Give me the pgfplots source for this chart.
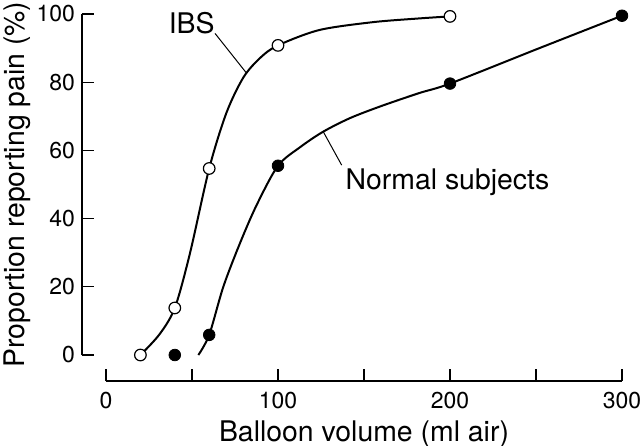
\documentclass[border=0pt]{standalone}
\usepackage{pgfplots}
\pgfplotsset{compat=1.18}
\usepackage{fontspec}
\setmainfont{TeX Gyre Heros}
\begin{document}
\begin{tikzpicture}
\begin{axis}[
  scale only axis, width=258pt, height=170.5pt,
  xmin=0, xmax=300, ymin=0, ymax=100,
  axis lines=left, axis line style={-, line width=0.6pt},
  axis x line shift=13pt, axis y line shift=12pt,
  tick align=inside, major tick length=6pt,
  tick style={line width=0.6pt, black},
  xtick={0,50,...,300}, xticklabels={0,,100,,200,,300},
  ytick={0,20,...,100},
  /pgf/number format/assume math mode=true,
  ticklabel style={font=\fontsize{11.5}{13}\selectfont},
  xticklabel style={yshift=-2pt},
  label style={font=\fontsize{14.2}{17}\selectfont},
  xlabel={Balloon volume (ml air)},
  ylabel={Proportion reporting pain (\%)},
  xlabel style={at={(axis description cs:0.5,0)}, anchor=base, yshift=-43.3pt},
  ylabel style={at={(axis description cs:0,0.5)}, anchor=base, yshift=40.5pt},
  clip=false,
]
\coordinate (O) at (axis cs:0,0);
\coordinate (E) at (axis cs:300,100);
% detached y axis line
\draw[line width=0.6pt, black] ([xshift=-12pt]axis cs:0,0) -- ([xshift=-12pt]axis cs:0,100);
% fitted curves
\addplot[smooth, line width=1pt, black] coordinates {
 (20,0) (31,6) (40,13.8) (48.8,29.8) (60,54.7) (70,71) (80,81.5) (90,87.3) (100,90.8) (124,95.3) (155,97.6) (182,98.7) (200,99.3)};
\addplot[smooth, line width=1pt, black] coordinates {
 (53.7,0) (60,5.9) (68.2,20) (77.9,32.8) (87.6,44) (100,55.5) (113,61) (126.3,65.5) (142,69.5) (160,73) (182,76.8) (200,79.6) (250,89.6) (300,99.5)};
% data points
\addplot[only marks, mark=*, mark size=2.9pt, mark options={fill=white, draw=black, line width=0.6pt}] coordinates {
 (20,0) (40,13.8) (60,54.7) (100,90.8) (200,99.3)};
\addplot[only marks, mark=*, mark size=2.9pt, mark options={fill=black, draw=black}] coordinates {
 (40,0) (60,5.9) (100,55.5) (200,79.6) (300,99.5)};
% annotations
\draw[line width=0.5pt] (axis cs:63.4,94.3) -- (axis cs:81.8,82.6);
\node[font=\fontsize{14.2}{17}\selectfont, anchor=base] at (axis cs:49.8,94.3) {IBS};
\draw[line width=0.5pt] (axis cs:137,55.7) -- (axis cs:126.3,65.5);
\node[font=\fontsize{14.2}{17}\selectfont, anchor=base] at (axis cs:198.5,48.4) {Normal subjects};
\end{axis}
\pgfresetboundingbox
\path ([shift={(-53pt,-45pt)}]O) rectangle ([shift={(9pt,7pt)}]E);
\end{tikzpicture}
\end{document}
